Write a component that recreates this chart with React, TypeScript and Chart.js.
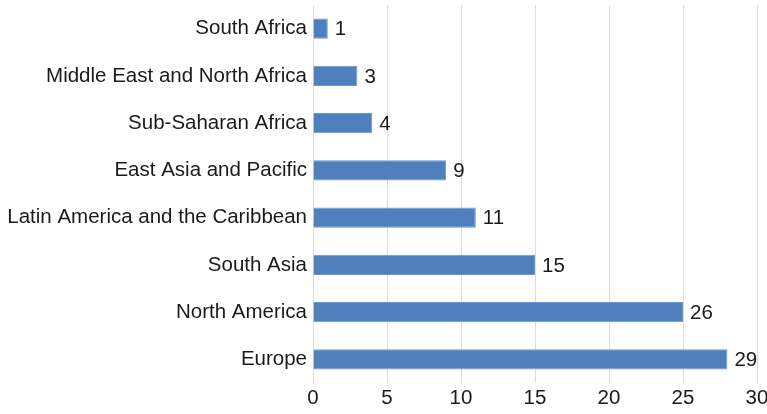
import React, { useEffect, useRef } from "react";
import { Chart, registerables } from "chart.js";

Chart.register(...registerables);

const categories = [
  "South Africa",
  "Middle East and North Africa",
  "Sub-Saharan Africa",
  "East Asia and Pacific",
  "Latin America and the Caribbean",
  "South Asia",
  "North America",
  "Europe",
];
const barValues = [1, 3, 4, 9, 11, 15, 25, 28];
const valueLabels = ["1", "3", "4", "9", "11", "15", "26", "29"];
const xTicks = [0, 5, 10, 15, 20, 25, 30];

const FONT = "'Liberation Sans', Arial, Helvetica, sans-serif";
const FS = 20.5;

const valueLabelPlugin = {
  id: "valueLabels",
  afterDatasetsDraw(chart: any) {
    const ctx = chart.ctx;
    const meta = chart.getDatasetMeta(0);
    ctx.save();
    ctx.font = `${FS}px ${FONT}`;
    ctx.fillStyle = "#1a1a1a";
    ctx.textAlign = "left";
    ctx.textBaseline = "middle";
    meta.data.forEach((bar: any, i: number) => {
      ctx.fillText(valueLabels[i], bar.x + 7, bar.y + 1);
    });
    ctx.restore();
  },
};

export default function App() {
  const ref = useRef<HTMLCanvasElement>(null);
  useEffect(() => {
    document.body.style.margin = "0";
    const chart = new Chart(ref.current!, {
      type: "bar",
      data: {
        labels: categories,
        datasets: [
          {
            data: barValues,
            backgroundColor: "#4f7fbd",
            borderColor: "#6a97cf",
            borderWidth: 1,
            barPercentage: 0.43,
            categoryPercentage: 1,
          },
        ],
      },
      options: {
        indexAxis: "y",
        animation: false,
        responsive: false,
        layout: { padding: { top: 5, right: 10, left: 0, bottom: 0 } },
        plugins: { legend: { display: false }, tooltip: { enabled: false } },
        scales: {
          x: {
            min: 0,
            max: 30,
            afterBuildTicks: (s: any) => {
              s.ticks = xTicks.map((v) => ({ value: v }));
            },
            afterFit: (s: any) => {
              s.height = 31;
              s.paddingLeft = 0;
              s.paddingRight = 0;
            },
            grid: { color: "#dcdcdc", drawTicks: false, lineWidth: 1 },
            border: { display: false },
            ticks: {
              color: "#1a1a1a",
              font: { size: FS, family: FONT },
              padding: 3,
            },
          },
          y: {
            afterFit: (s: any) => {
              s.width = 313;
              s.paddingTop = 0;
              s.paddingBottom = 0;
            },
            grid: { display: false, drawTicks: false },
            border: { display: true, color: "#dcdcdc" },
            ticks: {
              color: "#1a1a1a",
              font: { size: FS, family: FONT },
              padding: 6,
            },
          },
        },
      },
      plugins: [valueLabelPlugin],
    });
    return () => chart.destroy();
  }, []);
  return (
    <div style={{ width: 767, height: 414 }}>
      <canvas ref={ref} width={767} height={414} style={{ display: "block" }} />
    </div>
  );
}
